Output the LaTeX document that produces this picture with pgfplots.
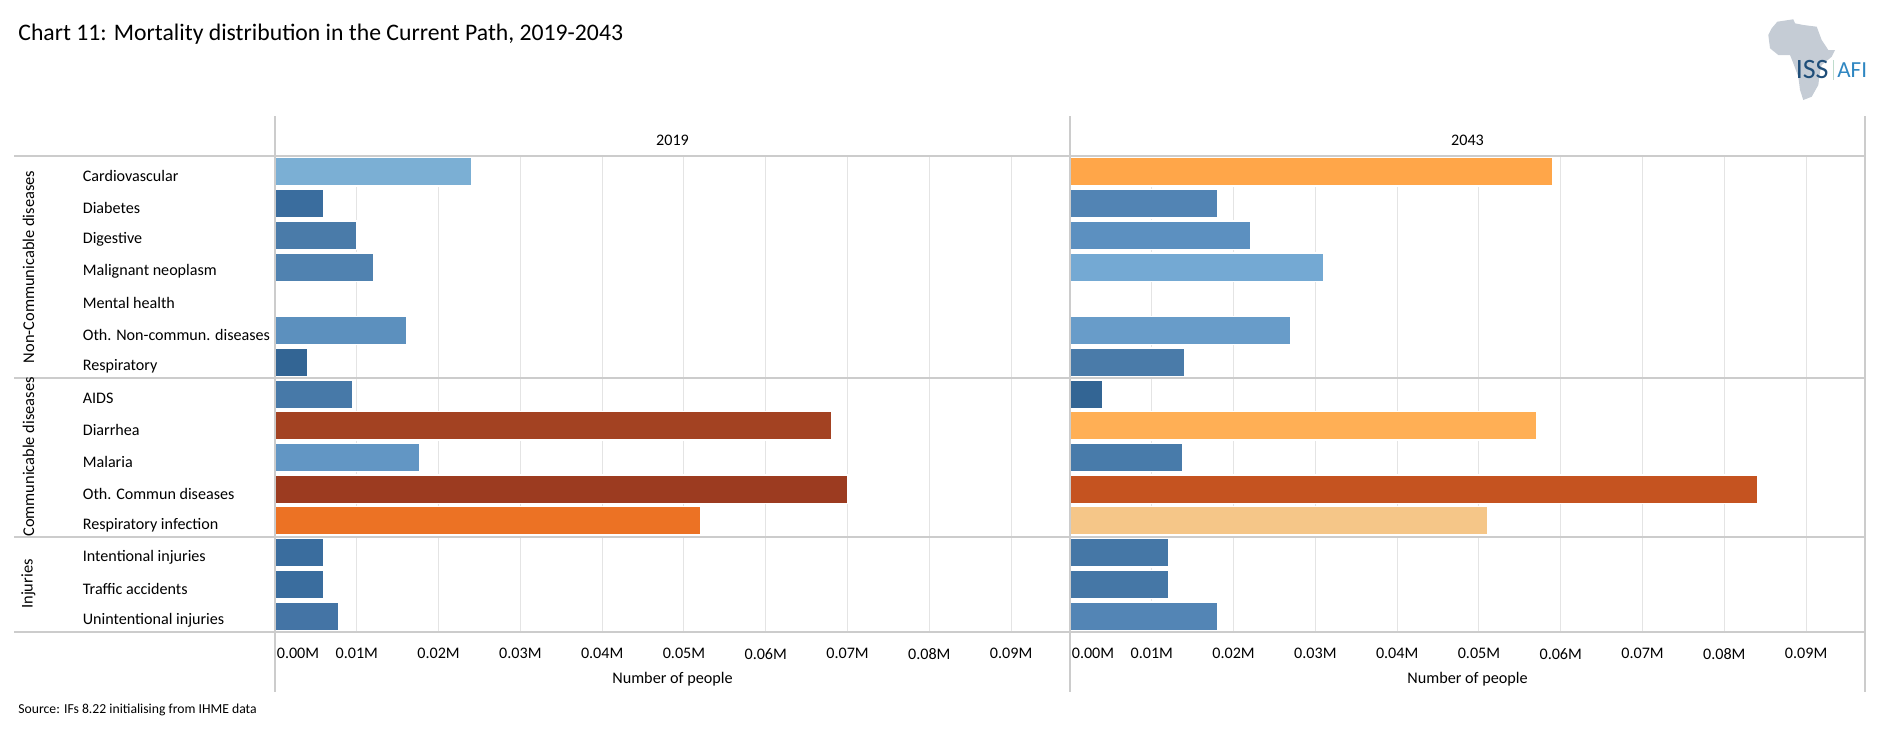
\documentclass[border=0pt]{standalone}
\usepackage{fontspec}
\setmainfont{Carlito}
\usepackage{pgfplots}
\pgfplotsset{compat=1.18}

% left panel, 2019
\definecolor{la}{HTML}{7BAFD4}
\definecolor{lb}{HTML}{3A6D9E}
\definecolor{lc}{HTML}{4A7BA9}
\definecolor{ld}{HTML}{5082B0}
\definecolor{lf}{HTML}{5C90BE}
\definecolor{lg}{HTML}{336594}
\definecolor{lh}{HTML}{4779A8}
\definecolor{li}{HTML}{A34222}
\definecolor{lj}{HTML}{6296C4}
\definecolor{lk}{HTML}{9C3B20}
\definecolor{ll}{HTML}{EC7224}
\definecolor{ln}{HTML}{4474A5}
% right panel, 2043
\definecolor{ra}{HTML}{FFA649}
\definecolor{rb}{HTML}{5284B4}
\definecolor{rc}{HTML}{5C90C0}
\definecolor{rd}{HTML}{74A9D3}
\definecolor{rf}{HTML}{689CC9}
\definecolor{rg}{HTML}{4A7BA9}
\definecolor{rh}{HTML}{336594}
\definecolor{ri}{HTML}{FFAF55}
\definecolor{rj}{HTML}{487BAA}
\definecolor{rk}{HTML}{C55320}
\definecolor{rl}{HTML}{F5C688}
\definecolor{rm}{HTML}{4577A6}
\definecolor{rn}{HTML}{5385B5}

\definecolor{sepgrey}{HTML}{CCCCCC}
\definecolor{gridgrey}{HTML}{E4E4E4}
\definecolor{logogrey}{HTML}{C5CCD5}
\definecolor{logodark}{HTML}{1F4E79}
\definecolor{logoblue}{HTML}{2E86C1}
\definecolor{logopale}{HTML}{BEDCCD}

\pgfplotsset{panel/.style={
    xbar,
    bar shift=0pt,
    bar width=14.2pt,
    scale only axis,
    width=397.5pt,
    height=238pt,
    anchor=south west,
    xmin=0, xmax=0.0972,
    ymin=0.5, ymax=15.5,
    y dir=reverse,
    axis line style={draw=none},
    major tick length=0pt,
    ytick={1,...,15},
    xtick={0.01,0.02,0.03,0.04,0.05,0.06,0.07,0.08,0.09},
    xticklabels={0.01M,0.02M,0.03M,0.04M,0.05M,0.06M,0.07M,0.08M,0.09M},
    extra x ticks={0},
    extra x tick labels={0.00M},
    extra x tick style={grid=none, xticklabel style={xshift=11.5pt}},
    scaled x ticks=false,
    xmajorgrids,
    grid style={gridgrey, line width=0.5pt},
    tick label style={font=\fontsize{8.05}{9}\selectfont},
    x tick label style={yshift=-4.7pt},
    xlabel={Number of people},
    xlabel style={font=\fontsize{8.1}{9}\selectfont, yshift=0.3pt},
    every axis plot/.append style={draw=white, line width=0.7pt, xshift=0.15pt, forget plot},
}}

\begin{document}
\begin{tikzpicture}[x=0.5pt,y=-0.5pt]
\path[use as bounding box] (0,0) rectangle (1880,739);

\begin{axis}[panel, at={(137.5pt,-316pt)},
    yticklabels={Cardiovascular,Diabetes,Digestive,Malignant neoplasm,Mental health,Oth. Non-commun. diseases,Respiratory,AIDS,Diarrhea,Malaria,Oth. Commun diseases,Respiratory infection,Intentional injuries,Traffic accidents,Unintentional injuries},
    y tick label style={anchor=west, xshift=-99.6pt, yshift=-2.2pt},
]
\addplot[fill=la] coordinates {(0.0240,1)};
\addplot[fill=lb] coordinates {(0.0059,2)};
\addplot[fill=lc] coordinates {(0.0099,3)};
\addplot[fill=ld] coordinates {(0.0120,4)};
\addplot[fill=lf] coordinates {(0.0161,6)};
\addplot[fill=lg] coordinates {(0.0040,7)};
\addplot[fill=lh] coordinates {(0.0095,8)};
\addplot[fill=li] coordinates {(0.0680,9)};
\addplot[fill=lj] coordinates {(0.0177,10)};
\addplot[fill=lk] coordinates {(0.0700,11)};
\addplot[fill=ll] coordinates {(0.0520,12)};
\addplot[fill=lb] coordinates {(0.0059,13)};
\addplot[fill=lb] coordinates {(0.0059,14)};
\addplot[fill=ln] coordinates {(0.0078,15)};
\end{axis}

\begin{axis}[panel, at={(535pt,-316pt)}, yticklabels={}]
\addplot[fill=ra] coordinates {(0.0590,1)};
\addplot[fill=rb] coordinates {(0.0180,2)};
\addplot[fill=rc] coordinates {(0.0220,3)};
\addplot[fill=rd] coordinates {(0.0310,4)};
\addplot[fill=rf] coordinates {(0.0270,6)};
\addplot[fill=rg] coordinates {(0.0140,7)};
\addplot[fill=rh] coordinates {(0.0040,8)};
\addplot[fill=ri] coordinates {(0.0570,9)};
\addplot[fill=rj] coordinates {(0.0137,10)};
\addplot[fill=rk] coordinates {(0.0840,11)};
\addplot[fill=rl] coordinates {(0.0510,12)};
\addplot[fill=rm] coordinates {(0.0120,13)};
\addplot[fill=rm] coordinates {(0.0120,14)};
\addplot[fill=rn] coordinates {(0.0180,15)};
\end{axis}

% separators
\foreach \yy in {156,378,537,632}
  \draw[sepgrey, line width=0.7pt] (14,\yy) -- (1865,\yy);
\foreach \xx in {275,1070,1865}
  \draw[sepgrey, line width=1pt] (\xx,116) -- (\xx,692);

% panel headers
\node[font=\fontsize{8.05}{9}\selectfont] at (672.5,140) {2019};
\node[font=\fontsize{8.05}{9}\selectfont] at (1467.5,140) {2043};

% group labels
\node[rotate=90, font=\fontsize{8.2}{9}\selectfont] at (28.5,267) {Non-Communicable diseases};
\node[rotate=90, font=\fontsize{8.2}{9}\selectfont] at (28.5,457) {Communicable diseases};
\node[rotate=90, font=\fontsize{8.2}{9}\selectfont] at (28.5,584) {Injuries};

% title and source
\node[anchor=west, inner sep=0pt, font=\fontsize{11.85}{13}\selectfont] at (18,34) {Chart 11: Mortality distribution in the Current Path, 2019-2043};
\node[anchor=west, inner sep=0pt, font=\fontsize{6.85}{8}\selectfont] at (18,710) {Source: IFs 8.22 initialising from IHME data};

% logo
\fill[logogrey] (1777.3,21.7) -- (1793.3,19.3) -- (1795,23.3) -- (1803.3,25) -- (1816.7,26.7) -- (1821.7,40) -- (1828.3,50) -- (1835,50) -- (1831.7,56.7) -- (1821.7,65) -- (1820,71.7) -- (1818.3,85) -- (1811.7,96.7) -- (1803.3,100) -- (1800,90) -- (1798.3,76.7) -- (1793.3,63.3) -- (1790,55) -- (1778.3,55) -- (1770,48.3) -- (1768.3,35) -- (1771.7,28.3) -- cycle;
\node[inner sep=0pt, anchor=east, font=\fontsize{14}{14}\selectfont, text=logodark] at (1829,70) {ISS};
\draw[logopale, line width=0.5pt] (1833,60) -- (1833,80);
\node[inner sep=0pt, anchor=west, font=\fontsize{11.5}{12}\selectfont, text=logoblue] at (1837,70) {AFI};
\end{tikzpicture}
\end{document}
